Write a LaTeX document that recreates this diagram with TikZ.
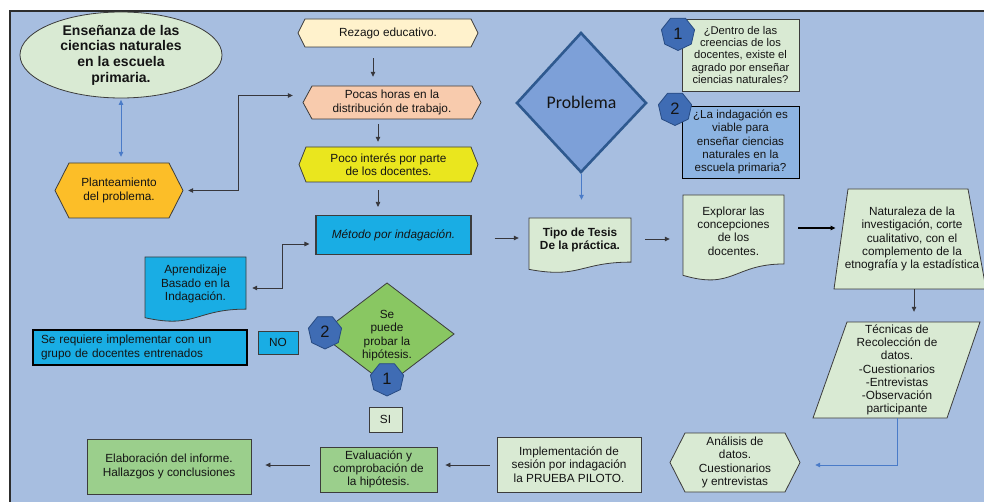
\documentclass[tikz,border=0pt]{standalone}
\usepackage{fontspec}
\setmainfont{Liberation Sans}
\newfontfamily\calib{Carlito}
\usetikzlibrary{arrows.meta,shapes.geometric,calc}
\definecolor{bgblue}{RGB}{167,190,224}
\definecolor{framec}{RGB}{45,45,45}
\definecolor{linec}{RGB}{60,60,60}
\definecolor{txtc}{RGB}{20,20,20}
\definecolor{arrc}{RGB}{55,55,60}
\definecolor{arrblue}{RGB}{74,123,200}
\definecolor{lgreen}{RGB}{217,234,211}
\definecolor{orangec}{RGB}{252,190,40}
\definecolor{rezc}{RGB}{255,242,204}
\definecolor{pocc}{RGB}{248,203,173}
\definecolor{yelc}{RGB}{234,230,30}
\definecolor{cyanc}{RGB}{25,173,228}
\definecolor{dgreen}{RGB}{137,199,98}
\definecolor{gboxc}{RGB}{155,207,140}
\definecolor{b2c}{RGB}{141,180,226}
\definecolor{probc}{RGB}{125,160,216}
\definecolor{probd}{RGB}{46,89,143}
\definecolor{heptc}{RGB}{63,108,180}
\definecolor{heptd}{RGB}{40,75,130}
\newcommand\fsz{\fontsize{11.8}{13.3}\selectfont}
\newcommand\hexshape[6]{\draw[shp,fill=#6] ({#1+#5},#2) -- ({#3-#5},#2) -- (#3,{(#2+#4)/2}) -- ({#3-#5},#4) -- ({#1+#5},#4) -- (#1,{(#2+#4)/2}) -- cycle;}
\newcommand\docshape[5]{\draw[shp,fill=#5] (#1,#2) -- (#3,#2) -- (#3,{#2+0.802*#4}) .. controls ({(#1+#3)/2},{#2+0.802*#4}) and ({(#1+#3)/2},{#2+1.1075*#4}) .. (#1,{#2+0.934*#4}) -- cycle;}
\begin{document}
\begin{tikzpicture}[x=1pt,y=-1pt,
  shp/.style={draw=linec, line width=0.8pt, line join=miter},
  tx/.style={align=center, inner sep=0pt, font=\fsz, text=txtc},
  tipa/.style={Triangle[length=5pt,width=4.5pt]},
  arr/.style={draw=arrc, line width=0.8pt, -{Triangle[length=5pt,width=4.5pt]}},
  darr/.style={draw=arrc, line width=0.8pt, {Triangle[length=5pt,width=4.5pt]}-{Triangle[length=5pt,width=4.5pt]}},
  barr/.style={draw=arrblue, line width=0.8pt, -{Triangle[length=5pt,width=4.5pt]}},
  bdarr/.style={draw=arrblue, line width=0.8pt, {Triangle[length=5pt,width=4.5pt]}-{Triangle[length=5pt,width=4.5pt]}},
  hept/.style={regular polygon, regular polygon sides=7, minimum size=34pt, inner sep=0pt, fill=heptc, draw=heptd, line width=0.8pt, font=\fontsize{16.5}{16.5}\selectfont, text=txtc, shape border rotate=180},
]
\useasboundingbox (0,0) rectangle (984,502);
\fill[white] (0,0) rectangle (984,502);
\draw[fill=bgblue, draw=framec, line width=2.6pt] (10,11) rectangle (1000,520);

% left column
\node[ellipse, draw=linec, line width=0.8pt, fill=lgreen, minimum width=202pt, minimum height=86pt, inner sep=0pt, align=center, text=txtc, font=\bfseries\fontsize{14}{15.6}\selectfont] (ell) at (121,55) {Enseñanza de las\\ciencias naturales\\en la escuela\\primaria.};

\hexshape{55}{163}{183}{218}{14}{orangec}
\node[tx, minimum width=128pt, minimum height=55pt] (plan) at (119,190.5) {Planteamiento\\del problema.};

% middle column
\hexshape{298}{19}{478}{47}{7}{rezc}
\node[tx, minimum width=180pt, minimum height=28pt] (rez) at (388,33) {Rezago educativo.};

\hexshape{303}{86}{481}{119}{9}{pocc}
\node[tx, minimum width=178pt, minimum height=33pt] (poc) at (392,102.5) {Pocas horas en la\\distribución de trabajo.};

\hexshape{299}{147}{478}{182}{7}{yelc}
\node[tx, minimum width=179pt, minimum height=35pt] (poco) at (388.5,164.5) {Poco interés por parte\\de los docentes.};

\node[tx, draw=linec, line width=1.1pt, fill=cyanc, minimum width=155pt, minimum height=39pt, font=\fsz\itshape] (met) at (393.5,235) {Método por indagación.};

\docshape{145}{257}{246}{65}{cyanc}
\node[tx, minimum width=101pt] (apr) at (195.5,284) {Aprendizaje\\Basado en la\\Indagación.};

\node[draw=black, line width=2.6pt, fill=cyanc, text width=198pt, align=left, inner xsep=8pt, inner ysep=0pt, minimum height=35pt, font=\fsz, text=txtc] (req) at (140,347.5) {Se requiere implementar con un\\grupo de docentes entrenados};

\node[tx, draw=linec, line width=0.8pt, fill=cyanc, minimum width=40pt, minimum height=23pt] (no) at (278,342.5) {NO};

\draw[shp, fill=dgreen] (387,283) -- (454,334) -- (387,385) -- (320,334) -- cycle;
\node[tx] (sep) at (387,335.5) {Se\\puede\\probar la\\hipótesis.};
\node[hept] (h2a) at (325,332) {2};
\node[hept] (h1a) at (387,379) {1};

\node[tx, draw=linec, line width=0.8pt, fill=lgreen, minimum width=33pt, minimum height=25pt] (si) at (385.5,419.5) {SI};

% problema
\draw[draw=probd, line width=2.6pt, fill=probc, line join=miter] (581,33) -- (646,103) -- (581,172) -- (517,103) -- cycle;
\node[tx, font=\calib\fontsize{17.8}{18}\selectfont, minimum width=129pt, minimum height=139pt] (prob) at (581.5,102.5) {Problema};

\node[tx, draw=linec, line width=0.8pt, fill=lgreen, minimum width=117pt, minimum height=72pt, font=\fontsize{11.2}{12.3}\selectfont] (b1) at (740.5,55) {¿Dentro de las\\creencias de los\\docentes, existe el\\agrado por enseñar\\ciencias naturales?};
\node[tx, draw=black, line width=0.9pt, fill=b2c, minimum width=117pt, minimum height=72pt, font=\fontsize{11.6}{13.3}\selectfont] (b2) at (740.5,142) {¿La indagación es\\viable para\\enseñar ciencias\\naturales en la\\escuela primaria?};
\node[hept] (h1) at (678,33.5) {1};
\node[hept] (h2) at (675,108.5) {2};

% right part
\docshape{529}{218}{631}{55}{lgreen}
\node[tx, font=\bfseries\fsz, minimum width=102pt, minimum height=44pt] (tipo) at (580,240) {Tipo de Tesis\\De la práctica.};

\docshape{683}{195}{784}{86}{lgreen}
\node[tx, minimum width=101pt] (expl) at (733.5,231) {Explorar las\\concepciones\\de los\\docentes.};

\draw[shp, fill=lgreen] (848,189) -- (968,189) -- (986,289) -- (834,289) -- cycle;
\node[tx, minimum width=130pt, minimum height=100pt] (nat) at (912,239) {Naturaleza de la\\investigación, corte\\cualitativo, con el\\complemento de la\\etnografía y la estadística};

\draw[shp, fill=lgreen] (847,322) -- (980,322) -- (947,418) -- (813,418) -- cycle;
\node[tx, minimum width=100pt, minimum height=96pt, font=\fontsize{11.8}{13.2}\selectfont] (tec) at (897,370) {Técnicas de\\Recolección de\\datos.\\-Cuestionarios\\-Entrevistas\\-Observación\\participante};

\hexshape{670}{433}{800}{492}{15}{lgreen}
\node[tx, minimum width=130pt, minimum height=59pt] (ana) at (735,462.5) {Análisis de\\datos.\\Cuestionarios\\y entrevistas};

% bottom row
\node[tx, draw=linec, line width=0.8pt, fill=lgreen, minimum width=144pt, minimum height=55pt] (impl) at (569,464.5) {Implementación de\\sesión por indagación\\la PRUEBA PILOTO.};
\node[tx, draw=linec, line width=0.8pt, fill=gboxc, minimum width=117pt, minimum height=45pt] (eva) at (378.5,469.5) {Evaluación y\\comprobación de\\la hipótesis.};
\node[tx, draw=linec, line width=0.8pt, fill=gboxc, minimum width=164pt, minimum height=55pt] (elab) at (169,466.5) {Elaboración del informe.\\Hallazgos y conclusiones};

% connectors
\draw[bdarr, shorten <=1.5pt, shorten >=6pt] (ell.south) -- (plan.north -| ell.south);
\draw[darr, shorten <=5pt, shorten >=10pt] (plan.east) -| ($(poc.west)+(-64,-7)$) -- ($(poc.west)+(0,-7)$);
\draw[arr, shorten <=11pt, shorten >=9pt] ($(rez.south)+(-15,0)$) -- ($(poc.north)+(-19,0)$);
\draw[arr, shorten <=5pt, shorten >=5pt] ($(poc.south)+(-14,0)$) -- ($(poco.north)+(-10.5,0)$);
\draw[arr, shorten <=8pt, shorten >=8pt] ($(poco.south)+(-10.5,0)$) -- ($(met.north)+(-15.5,0)$);
\draw[darr, shorten <=6pt, shorten >=6pt] ($(met.west)+(0,9)$) -| ($(apr.east)+(36,4)$) -- ($(apr.east)+(0,4)$);
\draw[arr, shorten <=23pt, shorten >=10pt] ($(met.east)+(0,3)$) -- ($(tipo.west)+(0,-2)$);
\draw[barr, shorten <=2pt, shorten >=18pt] (prob.south) -- ($(tipo.north)+(1.5,0)$);
\draw[arr, shorten <=14pt, shorten >=13pt] ($(tipo.east)+(0,-1)$) -- ($(expl.west)+(0,8)$);
\draw[arr, draw=black, line width=1.6pt, shorten <=14pt, shorten >=9pt] ($(expl.east)+(0,-3)$) -- ($(nat.west)+(0,-11)$);
\draw[arr, shorten >=10pt] ($(nat.south)+(2,0)$) -- ($(tec.north)+(17,0)$);
\draw[barr, shorten >=15pt] (tec.south) |- ($(ana.east)+(0,2.5)$);
\draw[arr, shorten <=7pt, shorten >=8pt] ($(impl.west)+(0,0.5)$) -- ($(eva.east)+(0,-4.5)$);
\draw[arr, shorten <=10pt, shorten >=14pt] ($(eva.west)+(0,-4.5)$) -- ($(elab.east)+(0,-1.5)$);
\end{tikzpicture}
\end{document}
